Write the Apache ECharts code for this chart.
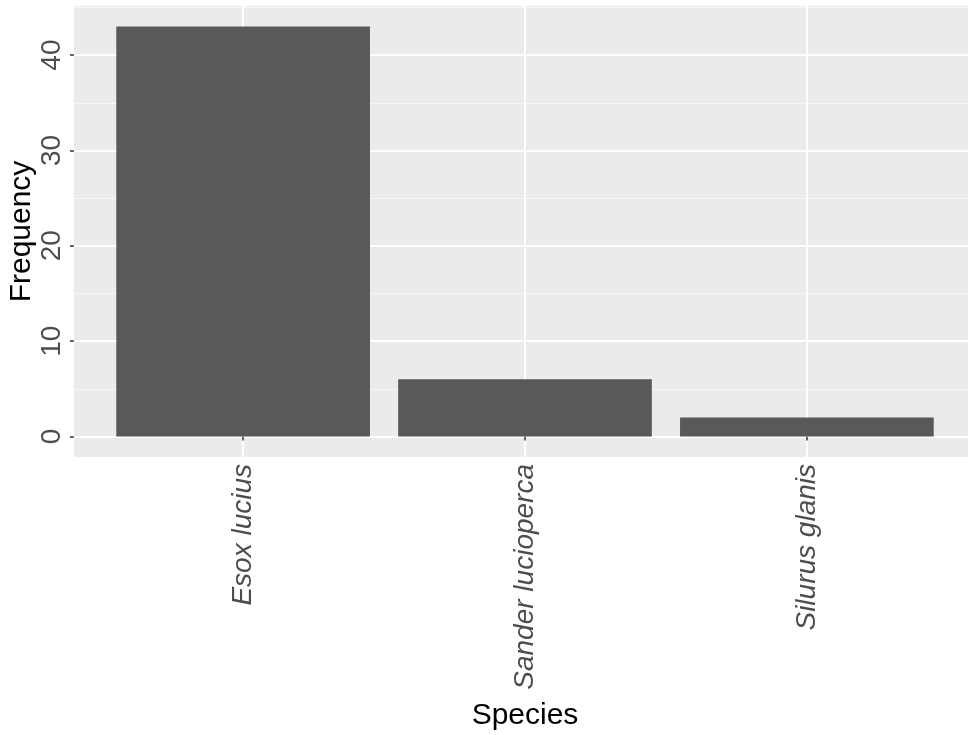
<!DOCTYPE html>
<html>
<head>
<meta charset="utf-8">
<script src="https://cdn.jsdelivr.net/npm/echarts@6/dist/echarts.min.js"></script>
<style>
html,body{margin:0;padding:0;background:#fff;}
#chart{width:968px;height:735px;}
</style>
</head>
<body>
<div id="chart"></div>
<script>
const categories = ['Esox lucius', 'Sander lucioperca', 'Silurus glanis'];
const frequencies = [43, 6, 2];
const yMajorTicks = [0, 10, 20, 30, 40];
const yMinorTicks = [5, 15, 25, 35, 45];
const xTickPositions = [1, 2, 3];

// ggplot-style expansion
const yMax = Math.max(...frequencies);
const yPad = yMax * 0.05;
const FONT = '"Liberation Sans", Arial, sans-serif';

const chart = echarts.init(document.getElementById('chart'), null, {renderer: 'canvas'});
chart.setOption({
  animation: false,
  backgroundColor: '#ffffff',
  grid: {
    left: 74, right: -8, top: 6, bottom: 278,
    show: true, backgroundColor: '#EBEBEB', borderWidth: 0,
    containLabel: false,
    outerBoundsMode: 'none'
  },
  xAxis: {
    type: 'value',
    min: 0.4, max: xTickPositions.length + 0.6,
    name: 'Species',
    nameLocation: 'middle',
    nameGap: 244,
    nameMoveOverlap: false,
    nameTextStyle: {color: '#000', fontSize: 30, fontFamily: FONT},
    axisLine: {show: false},
    axisTick: {show: true, customValues: xTickPositions, length: 4, lineStyle: {color: '#333', width: 1.5}},
    axisLabel: {
      customValues: xTickPositions,
      rotate: 90,
      margin: 7,
      fontSize: 28,
      fontStyle: 'italic',
      fontFamily: FONT,
      color: '#4D4D4D',
      formatter: v => categories[Math.round(v) - 1] || ''
    },
    splitLine: {show: true, lineStyle: {color: '#ffffff', width: 2}}
  },
  yAxis: [
    {
      type: 'value',
      min: -yPad, max: yMax + yPad,
      position: 'left',
      name: 'Frequency',
      nameLocation: 'middle',
      nameRotate: 90,
      nameGap: 37,
      nameMoveOverlap: false,
      nameTextStyle: {color: '#000', fontSize: 30, fontFamily: FONT},
      axisLine: {show: false},
      axisTick: {show: true, customValues: yMajorTicks, length: 4, lineStyle: {color: '#333', width: 1.5}},
      axisLabel: {
        customValues: yMajorTicks,
        rotate: 90,
        margin: 8,
        fontSize: 28,
        fontFamily: FONT,
        color: '#4D4D4D'
      },
      splitLine: {show: true, lineStyle: {color: '#ffffff', width: 2}}
    },
    {
      type: 'value',
      min: -yPad, max: yMax + yPad,
      position: 'left',
      axisLine: {show: false},
      axisTick: {show: false, customValues: yMinorTicks},
      axisLabel: {show: false, customValues: yMinorTicks},
      splitLine: {show: true, lineStyle: {color: '#F7F7F7', width: 1.2}}
    }
  ],
  series: [{
    type: 'bar',
    yAxisIndex: 0,
    data: frequencies.map((f, i) => [xTickPositions[i], f]),
    barWidth: '90%',
    itemStyle: {color: '#595959'},
    z: 3
  }]
});
</script>
</body>
</html>
